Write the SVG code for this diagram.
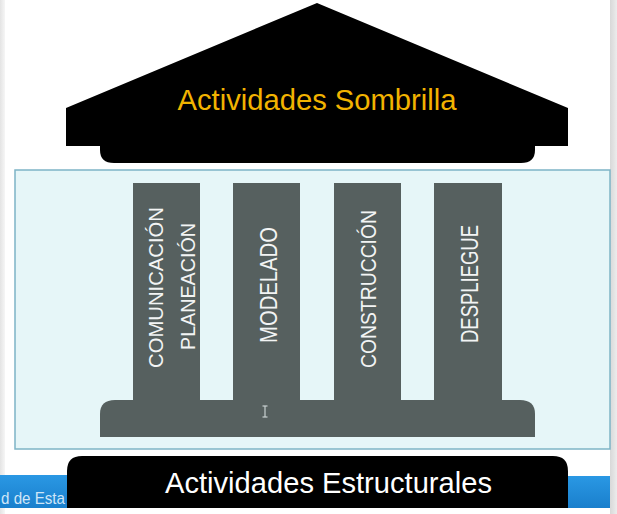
<svg xmlns="http://www.w3.org/2000/svg" width="617" height="514" viewBox="0 0 617 514">
  <defs>
    <linearGradient id="strip" x1="0" y1="0" x2="0" y2="1">
      <stop offset="0" stop-color="#2a98e4"/>
      <stop offset="1" stop-color="#1a7fcc"/>
    </linearGradient>
    <linearGradient id="edgeL" x1="0" y1="0" x2="1" y2="0">
      <stop offset="0" stop-color="#e4e4e4"/>
      <stop offset="1" stop-color="#f6f6f6"/>
    </linearGradient>
    <linearGradient id="edgeR" x1="0" y1="0" x2="1" y2="0">
      <stop offset="0" stop-color="#d8d8d8"/>
      <stop offset="1" stop-color="#ececec"/>
    </linearGradient>
  </defs>
  <style>
    .pillar { fill: #56605f; }
    .ptxt { fill: #f2f4f4; font-family: "Liberation Sans", Arial, sans-serif; }
    .title { font-family: "Liberation Sans", Arial, sans-serif; font-size: 29px; }
  </style>

  <rect x="0" y="0" width="617" height="514" fill="#ffffff"/>
  <rect x="0" y="0" width="5" height="514" fill="url(#edgeL)"/>
  <rect x="610" y="0" width="7" height="514" fill="url(#edgeR)"/>

  <g id="roof">
    <path d="M66,108 L317,3 L568,108 L568,146 L535,146 L535,150 Q535,163 521,163 L114,163 Q100,163 100,150 L100,146 L66,146 Z" fill="#000000"/>
    <text class="title" x="317" y="110" text-anchor="middle" fill="#f2b300" textLength="279" lengthAdjust="spacingAndGlyphs">Actividades Sombrilla</text>
  </g>

  <g id="frame">
    <rect x="15" y="170" width="595" height="279" fill="#e6f6f8" stroke="#7eb4c6" stroke-width="1.5"/>
  </g>

  <g id="pillar-1">
    <rect class="pillar" x="133" y="183" width="67" height="220"/>
    <text class="ptxt" font-size="20.5" transform="translate(163,287.5) rotate(-90)" text-anchor="middle" textLength="161" lengthAdjust="spacingAndGlyphs">COMUNICACIÓN</text>
    <text class="ptxt" font-size="20.5" transform="translate(195,286.5) rotate(-90)" text-anchor="middle" textLength="127" lengthAdjust="spacingAndGlyphs">PLANEACIÓN</text>
  </g>
  <g id="pillar-2">
    <rect class="pillar" x="233" y="183" width="67" height="220"/>
    <text class="ptxt" font-size="23" transform="translate(276.5,285) rotate(-90)" text-anchor="middle" textLength="116" lengthAdjust="spacingAndGlyphs">MODELADO</text>
  </g>
  <g id="pillar-3">
    <rect class="pillar" x="334" y="183" width="67" height="220"/>
    <text class="ptxt" font-size="22" transform="translate(376,289) rotate(-90)" text-anchor="middle" textLength="158" lengthAdjust="spacingAndGlyphs">CONSTRUCCIÓN</text>
  </g>
  <g id="pillar-4">
    <rect class="pillar" x="434" y="183" width="68" height="220"/>
    <text class="ptxt" font-size="23" transform="translate(478,284) rotate(-90)" text-anchor="middle" textLength="118" lengthAdjust="spacingAndGlyphs">DESPLIEGUE</text>
  </g>

  <g id="base">
    <path class="pillar" d="M100,437 L100,414 Q100,400 115,400 L520,400 Q535,400 535,414 L535,437 Z"/>
    <g stroke="#c8d0d0" stroke-width="1.2" fill="none">
      <line x1="265" y1="406" x2="265" y2="417"/>
      <line x1="262.5" y1="406" x2="267.5" y2="406"/>
      <line x1="262.5" y1="417" x2="267.5" y2="417"/>
    </g>
  </g>

  <g id="taskbar">
    <rect x="0" y="475" width="70" height="33" fill="url(#strip)"/>
    <rect x="565" y="476" width="45" height="32" fill="url(#strip)"/>
    <text x="1" y="504" font-family="Liberation Sans, Arial, sans-serif" font-size="17" fill="#cfe6f8" textLength="64" lengthAdjust="spacingAndGlyphs">d de Esta</text>
  </g>

  <g id="foundation">
    <path d="M67,508 L67,471 Q67,456 82,456 L553,456 Q568,456 568,471 L568,508 Z" fill="#000000"/>
    <text class="title" x="328.5" y="493" text-anchor="middle" fill="#ffffff" textLength="327" lengthAdjust="spacingAndGlyphs">Actividades Estructurales</text>
  </g>

  <g id="connectors"/>
</svg>
